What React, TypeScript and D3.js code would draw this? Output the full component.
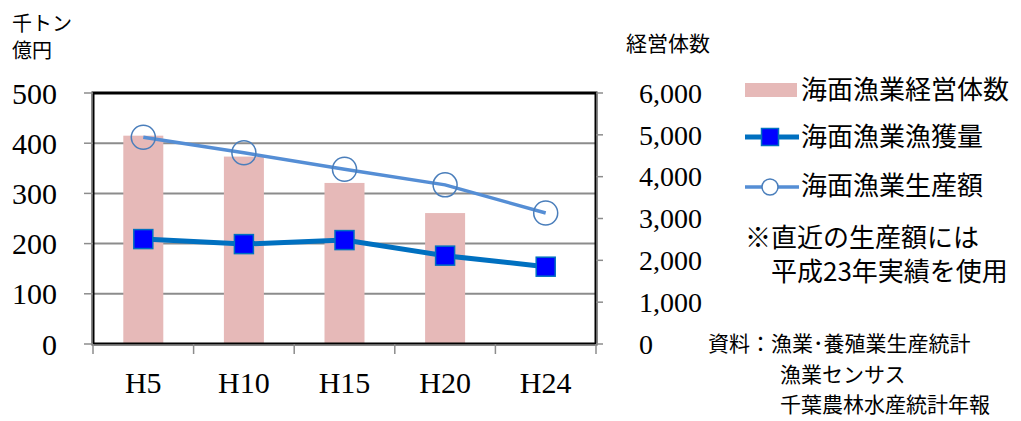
import React from "react";
import * as d3 from "d3";

const categories = ["H5", "H10", "H15", "H20", "H24"];
const entityCounts: (number | null)[] = [4980, 4480, 3850, 3130, null];
const catchVolume = [209, 199, 207, 176, 154];
const productionValue = [412, 381, 348, 317, 261];
const leftTicks = [0, 100, 200, 300, 400, 500];
const rightTicks = [0, 1000, 2000, 3000, 4000, 5000, 6000];

const W = 1021;
const H = 421;
const X0 = 93, X1 = 596, Y0 = 93, Y1 = 344;

const serif = "'Liberation Serif', 'Times New Roman', serif";
const jp = "'Noto Sans CJK JP', 'Noto Sans CJK SC', sans-serif";

export default function App() {
  const x = d3.scaleBand<string>().domain(categories).range([X0, X1]).paddingInner(0).paddingOuter(0);
  const yL = d3.scaleLinear().domain([0, 500]).range([Y1, Y0]);
  const yR = d3.scaleLinear().domain([0, 6000]).range([Y1, Y0]);
  const cx = (c: string) => (x(c) as number) + x.bandwidth() / 2;
  const barW = 40;

  const catchLine = d3.line<number>().x((_, i) => cx(categories[i])).y((d) => yL(d))(catchVolume) || "";
  const valueLine = d3.line<number>().x((_, i) => cx(categories[i])).y((d) => yL(d))(productionValue) || "";

  const xTickPos = [...categories.map((c) => x(c) as number), X1];

  return (
    <svg width={W} height={H} style={{ position: "absolute", left: 0, top: 0, background: "#fff" }}>
      <rect x={0} y={0} width={W} height={H} fill="#fff" />
      {/* gridlines */}
      {leftTicks.slice(1, -1).map((t) => (
        <line key={"g" + t} x1={X0} x2={X1} y1={yL(t)} y2={yL(t)} stroke="#8c8c8c" strokeWidth={2} />
      ))}
      {/* bars */}
      {entityCounts.map((v, i) =>
        v == null ? null : (
          <rect key={"b" + i} x={cx(categories[i]) - barW / 2} y={yR(v)} width={barW} height={Y1 - yR(v)} fill="#E6B9B8" />
        )
      )}
      {/* plot border */}
      <rect x={X0} y={Y0} width={X1 - X0} height={Y1 - Y0} fill="none" stroke="#000" strokeWidth={3} />
      {/* left axis */}
      <line x1={X0 - 1} x2={X0 - 1} y1={Y0} y2={Y1} stroke="#8c8c8c" strokeWidth={1.5} />
      {leftTicks.map((t) => (
        <g key={"l" + t}>
          <line x1={84} x2={X0} y1={yL(t)} y2={yL(t)} stroke="#8c8c8c" strokeWidth={1.5} />
          <text x={57} y={yL(t)} dy="0.35em" textAnchor="end" fontFamily={serif} fontSize={30} fill="#000">
            {t}
          </text>
        </g>
      ))}
      {/* right axis */}
      <line x1={X1 + 1} x2={X1 + 1} y1={Y0} y2={Y1} stroke="#8c8c8c" strokeWidth={1.5} />
      {rightTicks.map((t) => (
        <g key={"r" + t}>
          <line x1={X1} x2={603} y1={yR(t)} y2={yR(t)} stroke="#8c8c8c" strokeWidth={1.5} />
          <text x={639} y={yR(t)} dy="0.35em" textAnchor="start" fontFamily={serif} fontSize={28} fill="#000">
            {d3.format(",")(t)}
          </text>
        </g>
      ))}
      {/* bottom axis */}
      <line x1={X0} x2={X1} y1={Y1 + 1} y2={Y1 + 1} stroke="#8c8c8c" strokeWidth={1.5} />
      {xTickPos.map((p, i) => (
        <line key={"xt" + i} x1={p} x2={p} y1={Y1} y2={354} stroke="#8c8c8c" strokeWidth={1.5} />
      ))}
      {categories.map((c) => (
        <text key={"x" + c} x={cx(c)} y={393} textAnchor="middle" fontFamily={serif} fontSize={30} fill="#000">
          {c}
        </text>
      ))}
      {/* production value line */}
      <path d={valueLine} fill="none" stroke="#558ED5" strokeWidth={3.5} />
      {productionValue.map((v, i) => (
        <circle key={"c" + i} cx={cx(categories[i])} cy={yL(v)} r={12} fill="none" stroke="#4A7EBB" strokeWidth={1.5} />
      ))}
      {/* catch line */}
      <path d={catchLine} fill="none" stroke="#0070C0" strokeWidth={5} />
      {catchVolume.map((v, i) => (
        <rect key={"s" + i} x={cx(categories[i]) - 9.5} y={yL(v) - 9.5} width={19} height={19} fill="#0000FF" stroke="#0070C0" strokeWidth={1.5} />
      ))}
      {/* axis titles */}
      <text x={12} y={31} fontFamily={jp} fontSize={20} fill="#000">千トン</text>
      <text x={12} y={58} fontFamily={jp} fontSize={20} fill="#000">億円</text>
      <text x={626} y={51} fontFamily={jp} fontSize={21} fill="#000">経営体数</text>
      {/* legend */}
      <rect x={745} y={83} width={52} height={14} fill="#E6B9B8" />
      <text x={801} y={90} dy="0.35em" fontFamily={jp} fontSize={26} fill="#000">海面漁業経営体数</text>
      <line x1={745} x2={799} y1={137} y2={137} stroke="#0070C0" strokeWidth={5} />
      <rect x={761.5} y={128.5} width={17} height={17} fill="#0000FF" stroke="#0070C0" strokeWidth={1.5} />
      <text x={801} y={137} dy="0.35em" fontFamily={jp} fontSize={26} fill="#000">海面漁業漁獲量</text>
      <line x1={745} x2={799} y1={187} y2={187} stroke="#558ED5" strokeWidth={3.5} />
      <circle cx={770} cy={187} r={8} fill="#fff" stroke="#4A7EBB" strokeWidth={1.5} />
      <text x={801} y={186} dy="0.35em" fontFamily={jp} fontSize={26} fill="#000">海面漁業生産額</text>
      {/* note */}
      <text x={745} y={238} dy="0.35em" fontFamily={jp} fontSize={26} fill="#000">※直近の生産額には</text>
      <text x={771} y={272} dy="0.35em" fontFamily={jp} fontSize={26} fill="#000">平成23年実績を使用</text>
      {/* source */}
      <text x={708} y={344} dy="0.35em" fontFamily={jp} fontSize={21} fill="#000">資料：漁業･養殖業生産統計</text>
      <text x={780} y={375} dy="0.35em" fontFamily={jp} fontSize={21} fill="#000">漁業センサス</text>
      <text x={780} y={405} dy="0.35em" fontFamily={jp} fontSize={21} fill="#000">千葉農林水産統計年報</text>
    </svg>
  );
}
